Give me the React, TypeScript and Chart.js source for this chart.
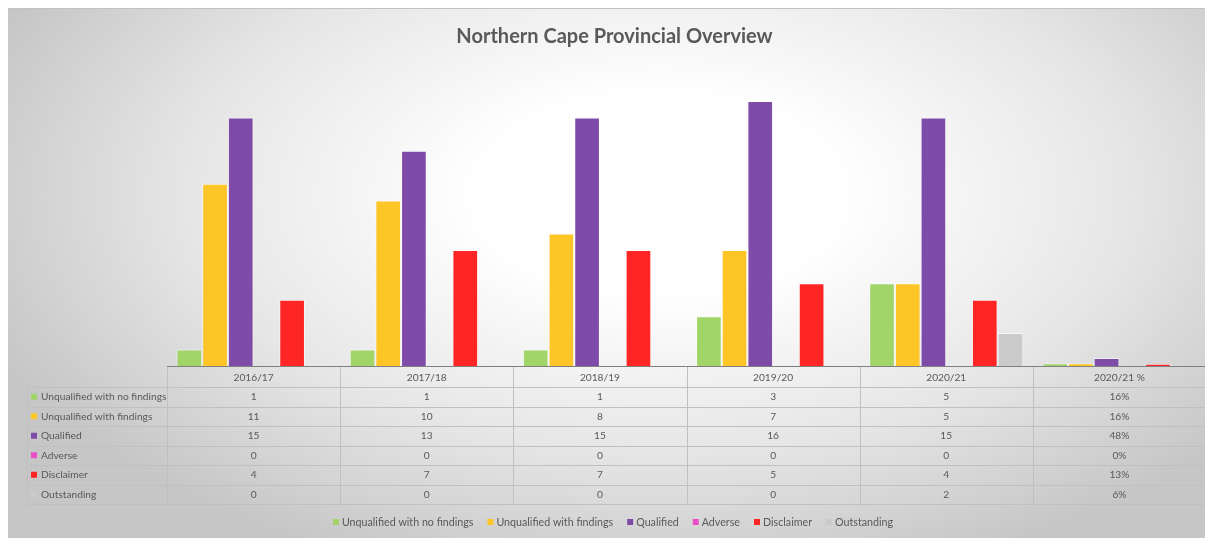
import React, { useEffect, useRef } from "react";
import { Chart, registerables } from "chart.js";

Chart.register(...registerables);

const categories = ["2016/17", "2017/18", "2018/19", "2019/20", "2020/21", "2020/21 %"];
const seriesNames = [
  "Unqualified with no findings",
  "Unqualified with findings",
  "Qualified",
  "Adverse",
  "Disclaimer",
  "Outstanding",
];
const unqualifiedNoFindings = [1, 1, 1, 3, 5, 0.16];
const unqualifiedFindings = [11, 10, 8, 7, 5, 0.16];
const qualified = [15, 13, 15, 16, 15, 0.48];
const adverse = [0, 0, 0, 0, 0, 0];
const disclaimer = [4, 7, 7, 5, 4, 0.13];
const outstanding = [0, 0, 0, 0, 2, 0.06];
const seriesColors = ["#a1d568", "#fdc526", "#7f4ba8", "#ea4fc8", "#fe2525", "#cbcbcb"];
const percentColumn = 5;
const titleText = "Northern Cape Provincial Overview";

const FONT = "Lato, 'Liberation Sans', sans-serif";
const TEXT = "#595959";

const tablePlugin = {
  id: "dataTable",
  afterDraw(chart: any) {
    const { ctx, chartArea } = chart;
    const left = chartArea.left;
    const right = chartArea.right;
    const top = chartArea.bottom + 1;
    const colW = (right - left) / categories.length;
    const headerH = 20;
    const rowH = 19.5;
    const tableLeft = 19;
    const bottom = top + headerH + rowH * seriesNames.length;
    ctx.save();

    // title
    ctx.fillStyle = TEXT;
    ctx.font = `bold 20px ${FONT}`;
    ctx.textAlign = "center";
    ctx.textBaseline = "middle";
    ctx.fillText(titleText, 606.5, 28);

    ctx.strokeStyle = "#c0c0c0";
    ctx.lineWidth = 1;
    for (let i = 0; i <= categories.length; i++) {
      const x = Math.round(left + i * colW) + 0.5;
      ctx.beginPath();
      ctx.moveTo(x, top);
      ctx.lineTo(x, bottom);
      ctx.stroke();
    }
    ctx.beginPath();
    ctx.moveTo(tableLeft + 0.5, top + headerH);
    ctx.lineTo(tableLeft + 0.5, bottom);
    ctx.stroke();
    for (let r = 0; r <= seriesNames.length; r++) {
      const y = Math.round(top + headerH + r * rowH) + 0.5;
      ctx.beginPath();
      ctx.moveTo(tableLeft, y);
      ctx.lineTo(right, y);
      ctx.stroke();
    }
    ctx.strokeStyle = "#7f7f7f";
    ctx.beginPath();
    ctx.moveTo(left, Math.round(chartArea.bottom) + 0.5);
    ctx.lineTo(right, Math.round(chartArea.bottom) + 0.5);
    ctx.stroke();

    ctx.fillStyle = TEXT;
    ctx.font = `10.2px ${FONT}`;
    ctx.textBaseline = "middle";
    ctx.textAlign = "center";
    categories.forEach((c, i) => {
      ctx.fillText(c, left + (i + 0.5) * colW, top + headerH / 2 + 1);
    });
    chart.data.datasets.forEach((ds: any, r: number) => {
      const cy = top + headerH + (r + 0.5) * rowH;
      ctx.fillStyle = ds.backgroundColor;
      ctx.fillRect(tableLeft + 4, cy - 3, 6, 6);
      ctx.fillStyle = TEXT;
      ctx.textAlign = "left";
      ctx.fillText(ds.label, tableLeft + 14, cy);
      ctx.textAlign = "center";
      ds.data.forEach((v: number, i: number) => {
        const label = i === percentColumn ? `${Math.round(v * 100)}%` : String(v);
        ctx.fillText(label, left + (i + 0.5) * colW, cy);
      });
    });

    // legend
    ctx.font = `10.7px ${FONT}`;
    ctx.textAlign = "left";
    const box = 6;
    const gapBox = 3;
    const gapItem = 14;
    const widths = chart.data.datasets.map((ds: any) => ctx.measureText(ds.label).width);
    const total =
      widths.reduce((a: number, b: number) => a + b, 0) +
      widths.length * (box + gapBox) +
      (widths.length - 1) * gapItem;
    let x = 605 - total / 2;
    const ly = 514;
    chart.data.datasets.forEach((ds: any, i: number) => {
      ctx.fillStyle = ds.backgroundColor;
      ctx.fillRect(x, ly - 4, box, box);
      x += box + gapBox;
      ctx.fillStyle = TEXT;
      ctx.fillText(ds.label, x, ly);
      x += widths[i] + gapItem;
    });
    ctx.restore();
  },
};

export default function App() {
  const ref = useRef<HTMLCanvasElement>(null);
  useEffect(() => {
    if (!ref.current) return;
    const seriesData = [
      unqualifiedNoFindings,
      unqualifiedFindings,
      qualified,
      adverse,
      disclaimer,
      outstanding,
    ];
    const chart = new Chart(ref.current, {
      type: "bar",
      data: {
        labels: categories,
        datasets: seriesNames.map((name, i) => ({
          label: name,
          data: seriesData[i],
          backgroundColor: seriesColors[i],
          borderColor: "rgba(255,255,255,0.55)",
          borderWidth: 1,
          categoryPercentage: 0.89,
          barPercentage: 1,
        })),
      },
      options: {
        animation: false,
        responsive: true,
        maintainAspectRatio: false,
        layout: { padding: { left: 159, right: 7, top: 92, bottom: 34 } },
        scales: {
          x: {
            grid: { display: false },
            border: { display: false },
            ticks: { display: false },
            afterFit: (scale: any) => {
              scale.height = 138;
            },
          },
          y: { display: false, min: 0, max: 16 },
        },
        plugins: {
          title: { display: false },
          legend: { display: false },
          tooltip: { enabled: false },
        },
      },
      plugins: [tablePlugin],
    });
    return () => chart.destroy();
  }, []);
  return (
    <div
      style={{
        width: 1205,
        height: 530,
        borderTop: "1px solid #c2c2c2",
        boxSizing: "border-box",
        background:
          "radial-gradient(ellipse 60% 75% at 54% 35%, #ffffff 0%, #ffffff 25%, #e6e6e6 65%, #c6c6c6 100%)",
      }}
    >
      <canvas ref={ref} />
    </div>
  );
}
